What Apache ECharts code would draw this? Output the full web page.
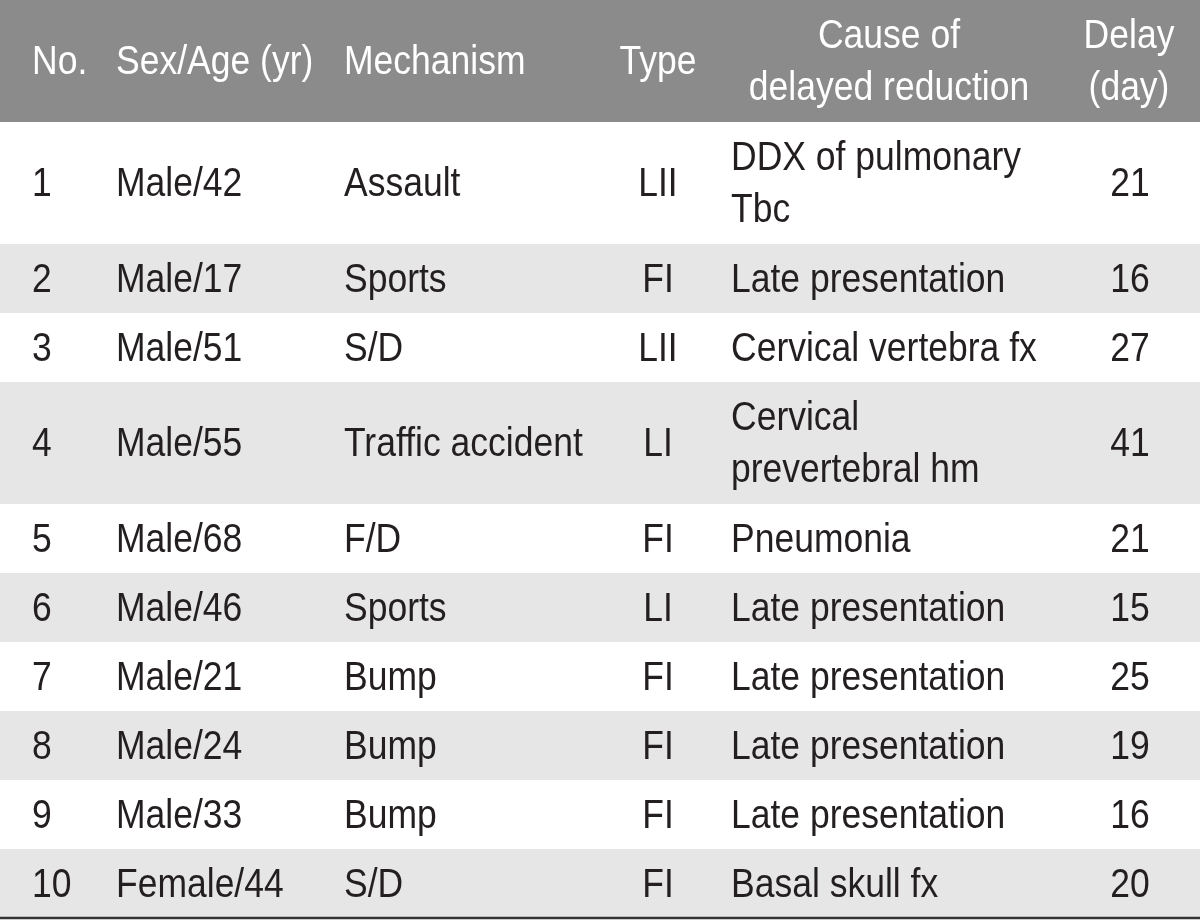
<!DOCTYPE html>
<html><head><meta charset="utf-8">
<style>html,body{margin:0;padding:0;background:#fff}#c{width:1200px;height:921px}</style>
<script src="https://cdn.jsdelivr.net/npm/echarts@6/dist/echarts.min.js"></script>
</head><body><div id="c"></div>
<script>
const headers = ['No.', 'Sex/Age (yr)', 'Mechanism', 'Type', 'Cause of\ndelayed reduction', 'Delay\n(day)'];
const caseNo = ['1', '2', '3', '4', '5', '6', '7', '8', '9', '10'];
const sexAge = ['Male/42', 'Male/17', 'Male/51', 'Male/55', 'Male/68', 'Male/46', 'Male/21', 'Male/24', 'Male/33', 'Female/44'];
const mechanism = ['Assault', 'Sports', 'S/D', 'Traffic accident', 'F/D', 'Sports', 'Bump', 'Bump', 'Bump', 'S/D'];
const injuryType = ['LII', 'FI', 'LII', 'LI', 'FI', 'LI', 'FI', 'FI', 'FI', 'FI'];
const cause = ['DDX of pulmonary\nTbc', 'Late presentation', 'Cervical vertebra fx', 'Cervical\nprevertebral hm', 'Pneumonia', 'Late presentation', 'Late presentation', 'Late presentation', 'Late presentation', 'Basal skull fx'];
const delayDays = [21, 16, 27, 41, 21, 15, 25, 19, 16, 20];

const FONT = "'Liberation Sans', Arial, sans-serif";
const FS = 35.5, SY = 1.15, LH = 52 / 1.15;
const cols = [
  {x: 32, align: 'left', hx: 32, halign: 'left'},
  {x: 116, align: 'left', hx: 116, halign: 'left'},
  {x: 344, align: 'left', hx: 344, halign: 'left'},
  {x: 658, align: 'center', hx: 658, halign: 'center'},
  {x: 731, align: 'left', hx: 889, halign: 'center'},
  {x: 1130, align: 'center', hx: 1129, halign: 'center'}
];
const tableRows = [headers].concat(caseNo.map((n, i) => [n, sexAge[i], mechanism[i], injuryType[i], cause[i], String(delayDays[i])]));
const heights = tableRows.map(r => Math.max.apply(null, r.map(c => c.split('\n').length)) === 2 ? 122 : 69);
let acc = 0;
const seriesData = tableRows.map((r, i) => { const t = acc; acc += heights[i]; return [i, t, heights[i]]; });

const chart = echarts.init(document.getElementById('c'), null, {renderer: 'canvas'});
chart.setOption({
  animation: false,
  grid: {left: 0, right: 0, top: 0, bottom: 0},
  xAxis: {type: 'value', min: 0, max: 1200, show: false},
  yAxis: {type: 'value', min: 0, max: 921, inverse: true, show: false},
  series: [{
    type: 'custom',
    coordinateSystem: 'cartesian2d',
    data: seriesData,
    renderItem: function (params, api) {
      const i = api.value(0), top = api.value(1), h = api.value(2);
      const p0 = api.coord([0, top]), p1 = api.coord([1200, top + h]);
      const children = [];
      const isHeader = i === 0;
      let bg = null;
      if (isHeader) bg = '#8b8b8b';
      else if (i % 2 === 0) bg = '#e6e6e6';
      if (bg) children.push({type: 'rect', shape: {x: p0[0], y: p0[1], width: p1[0] - p0[0], height: p1[1] - p0[1]}, style: {fill: bg}});
      const row = tableRows[i];
      row.forEach((txt, c) => {
        const col = cols[c];
        const pt = api.coord([isHeader ? col.hx : col.x, top + h / 2 + 2]);
        children.push({type: 'text', x: pt[0], y: pt[1], scaleY: SY, style: {
          text: txt, fill: isHeader ? '#ffffff' : '#231f20', font: FS + 'px ' + FONT,
          align: isHeader ? col.halign : col.align, verticalAlign: 'middle', lineHeight: LH
        }});
      });
      if (i === tableRows.length - 1) {
        children.push({type: 'line', shape: {x1: p0[0], y1: p1[1], x2: p1[0], y2: p1[1]}, style: {stroke: '#333333', lineWidth: 2.5}});
      }
      return {type: 'group', children: children};
    }
  }]
});
</script></body></html>
